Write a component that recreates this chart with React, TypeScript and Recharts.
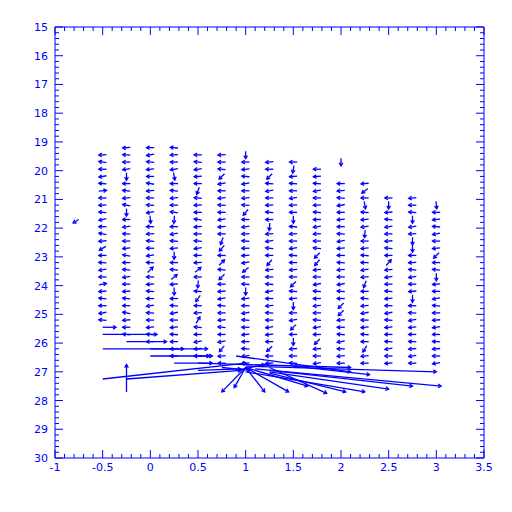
import { ReferenceArea, ReferenceLine, Scatter, ScatterChart, XAxis, YAxis } from "recharts";

const BLUE = "#0000ff";
const N = null;

// axis labels
const X_LABELS = [-1, -0.5, 0, 0.5, 1, 1.5, 2, 2.5, 3, 3.5];
const Y_LABELS = [15, 16, 17, 18, 19, 20, 21, 22, 23, 24, 25, 26, 27, 28, 29, 30];
const MINOR_PER_MAJOR = 5;

// grid of the small vectors
const COL_X = [-0.5, -0.25, 0, 0.25, 0.5, 0.75, 1, 1.25, 1.5, 1.75, 2, 2.25, 2.5, 2.75, 3];
const ROW_Y = [
  19.2, 19.45, 19.7, 19.95, 20.2, 20.45, 20.7, 20.95, 21.2, 21.45, 21.7, 21.95, 22.2, 22.45, 22.7, 22.95,
  23.2, 23.45, 23.7, 23.95, 24.2, 24.45, 24.7, 24.95, 25.2, 25.45, 25.7, 25.95, 26.2, 26.45, 26.7,
];

// direction of each small vector, degrees (0 = east, 90 = up), one list per column
const C_M050 = [N, 185, 170, 180, 190, 175, 5, 180, 185, 175, 195, 180, 170, 185, 210, 180, 175, 190, 180, 10, 185, 175, 180, 190, 175, N, N, N, N, N, N];
const C_M025 = [185, 175, 180, 190, 270, 180, 175, 185, 170, 270, 180, 190, 175, 180, 185, 170, 180, 175, 190, 180, 185, 175, 180, 170, 185, 180, 175, N, N, N, N];
const C_000 = [180, 190, 175, 185, 180, 170, 185, 180, 175, 190, 275, 180, 185, 175, 180, 190, 175, 45, 180, 185, 175, 180, 190, 175, 180, 185, 175, 180, N, N, N];
const C_025 = [175, 185, 180, 190, 280, 180, 175, 185, 180, 170, 265, 180, 190, 175, 185, 270, 180, 175, 40, 185, 270, 180, 175, 190, 180, 185, 175, 180, 185, 180, N];
const C_050 = [N, 180, 175, 190, 185, 180, 250, 175, 185, 180, 170, 185, 180, 175, 190, 180, 185, 40, 180, 265, 175, 235, 180, 185, 60, 175, 180, 190, 185, 180, N];
const C_075 = [N, 185, 180, 175, 225, 190, 180, 185, 175, 180, 190, 185, 180, 250, 230, 180, 45, 175, 225, 180, 185, 190, 175, 180, 185, 175, 180, 190, 230, 185, 180];
const C_100 = [N, 270, 180, 185, 175, 190, 180, 185, 175, 230, 180, 190, 185, 175, 180, 185, 190, 220, 180, 175, 270, 185, 180, 190, 175, 180, 185, 180, 175, 190, 185];
const C_125 = [N, N, 185, 180, 225, 175, 190, 180, 185, 175, 180, 265, 185, 190, 175, 180, 230, 185, 180, 175, 190, 180, 185, 175, 180, 190, 185, 180, 225, 180, 185];
const C_150 = [N, N, 180, 260, 185, 175, 180, 190, 185, 180, 270, 175, 185, 180, 190, 175, 180, 185, 180, 225, 175, 185, 270, 180, 190, 225, 180, 270, 185, 180, 175];
const C_175 = [N, N, N, 180, 185, 175, 190, 180, 185, 175, 180, 190, 185, 180, 175, 225, 230, 185, 180, 190, 175, 180, 185, 180, 175, 190, 180, 225, 185, 180, 190];
const C_200 = [N, N, 270, N, N, 180, 185, 175, 190, 180, 185, 180, 175, 190, 185, 180, 175, 185, 180, 190, 175, 180, 225, 225, 185, 180, 175, 190, 180, 185, 180];
const C_225 = [N, N, N, N, N, 185, 220, 180, 280, 175, 185, 190, 265, 180, 185, 175, 180, 190, 185, 250, 180, 175, 185, 190, 180, 185, 175, 180, 240, 185, 180];
const C_250 = [N, N, N, N, N, N, N, 180, 270, 185, 175, 190, 180, 185, 175, 180, 50, 185, 190, 180, 175, 185, 180, 190, 175, 185, 180, 175, 190, 180, 185];
const C_275 = [N, N, N, N, N, N, N, 185, 180, 175, 270, 190, 185, 270, 270, 180, 185, 175, 190, 180, 185, 270, 180, 175, 190, 185, 180, 175, 185, 190, 180];
const C_300 = [N, N, N, N, N, N, N, N, 275, 180, 185, 175, 190, 180, 185, 225, 180, 175, 270, 185, 180, 190, 175, 180, 185, 190, 180, 175, 185, 180, 190];
const ANGLES = [C_M050, C_M025, C_000, C_025, C_050, C_075, C_100, C_125, C_150, C_175, C_200, C_225, C_250, C_275, C_300];

// size of a small vector in axis units
const SMALL_DX = 0.08;
const SMALL_DY = 0.26;

// the large vectors near the bottom: base point and components
const BIG_X = [-0.75, -0.5, -0.5, -0.5, -0.25, 0, 0, 0.25, 0.5, -0.5, -0.25, -0.25, 0.5, 1, 1, 1, 1, 1, 0.75, 0.9, 1, 1.1, 1.25, 1.25, 1, 1.25, 1.25, 1.5, 0.9, 0.5];
const BIG_Y = [21.7, 25.45, 25.7, 26.2, 25.95, 26.2, 26.45, 26.7, 26.45, 27.25, 27.25, 27.7, 26.95, 26.85, 26.85, 26.85, 26.85, 26.85, 26.85, 26.95, 26.8, 26.9, 26.95, 27, 27, 27.05, 26.85, 26.8, 26.45, 26.7];
const BIG_U = [-0.06, 0.14, 0.57, 1.1, 0.42, 0.35, 0.62, 0.4, 0.15, 1.5, 1.2, 0, 0.45, -0.25, -0.12, 0.2, 0.45, 0.65, 0.3, 0.3, 2.0, 1.95, 1.5, 1.25, 1.25, 0.8, 0.6, 0.8, 1.2, 1.6];
const BIG_V = [0.12, 0, 0, 0, 0, 0, 0, 0, 0, -0.55, -0.3, -0.95, -0.05, 0.85, 0.7, 0.85, 0.85, 0.65, 0.1, -0.2, 0.2, 0.6, 0.55, 0.6, 0.7, 0.65, 0.9, 0.3, 0.55, 0.15];

const W = 504;
const H = 496;
const MARGIN = { top: 19, right: 28, bottom: 0, left: 0 };
const PLOT_TOP = MARGIN.top;
const PLOT_RIGHT = W - MARGIN.right;
const FONT = "DejaVu Sans";

function withMinors(majors: number[]) {
  const out: number[] = [];
  for (let i = 0; i < majors.length - 1; i++) {
    const step = (majors[i + 1] - majors[i]) / MINOR_PER_MAJOR;
    for (let k = 0; k < MINOR_PER_MAJOR; k++) out.push(Math.round((majors[i] + k * step) * 1000) / 1000);
  }
  out.push(majors[majors.length - 1]);
  return out;
}

const isMajor = (v: number, majors: number[]) => majors.some((m) => Math.abs(m - v) < 1e-6);

function XTick(props: any) {
  const { x, y, payload } = props;
  const major = isMajor(payload.value, X_LABELS);
  const len = major ? 8 : 4;
  return (
    <g>
      <line x1={x} x2={x} y1={y} y2={y - len} stroke={BLUE} />
      <line x1={x} x2={x} y1={PLOT_TOP} y2={PLOT_TOP + len} stroke={BLUE} />
      {major && (
        <text x={x} y={y + 13} textAnchor="middle" fill={BLUE} fontSize={11} fontFamily={FONT}>
          {String(payload.value)}
        </text>
      )}
    </g>
  );
}

function YTick(props: any) {
  const { x, y, payload } = props;
  const major = isMajor(payload.value, Y_LABELS);
  const len = major ? 8 : 4;
  return (
    <g>
      <line x1={x} x2={x + len} y1={y} y2={y} stroke={BLUE} />
      <line x1={PLOT_RIGHT} x2={PLOT_RIGHT - len} y1={y} y2={y} stroke={BLUE} />
      {major && (
        <text x={x - 7} y={y + 4} textAnchor="end" fill={BLUE} fontSize={11} fontFamily={FONT}>
          {String(payload.value)}
        </text>
      )}
    </g>
  );
}

function arrowShape(p: any) {
  const { x1, y1, x2, y2 } = p;
  if (x1 == null || y1 == null) return <g />;
  const a = Math.atan2(y2 - y1, x2 - x1);
  const h = 3.5;
  const b1 = [x2 - h * Math.cos(a - 0.55), y2 - h * Math.sin(a - 0.55)];
  const b2 = [x2 - h * Math.cos(a + 0.55), y2 - h * Math.sin(a + 0.55)];
  return (
    <g>
      <line x1={x1} y1={y1} x2={x2} y2={y2} stroke={BLUE} strokeWidth={1.3} />
      <polyline
        points={`${b1[0]},${b1[1]} ${x2},${y2} ${b2[0]},${b2[1]}`}
        fill="none"
        stroke={BLUE}
        strokeWidth={1.3}
      />
    </g>
  );
}

type Seg = { key: string; x1: number; y1: number; x2: number; y2: number };

const segments: Seg[] = [];
ANGLES.forEach((col, c) => {
  col.forEach((deg, r) => {
    if (deg == null || r >= ROW_Y.length) return;
    const t = (deg * Math.PI) / 180;
    const u = SMALL_DX * Math.cos(t);
    const v = -SMALL_DY * Math.sin(t);
    const x = COL_X[c];
    const y = ROW_Y[r];
    segments.push({ key: `s${c}-${r}`, x1: x - u / 2, y1: y - v / 2, x2: x + u / 2, y2: y + v / 2 });
  });
});
BIG_X.forEach((x, i) => {
  segments.push({ key: `b${i}`, x1: x, y1: BIG_Y[i], x2: x + BIG_U[i], y2: BIG_Y[i] + BIG_V[i] });
});

const basePoints = segments.map((s) => ({ x: s.x1, y: s.y1 }));

export default function App() {
  const xTicks = withMinors(X_LABELS);
  const yTicks = withMinors(Y_LABELS);
  return (
    <ScatterChart width={W} height={H} margin={MARGIN}>
      <XAxis
        type="number"
        dataKey="x"
        domain={[-1, 3.5]}
        ticks={xTicks}
        interval={0}
        tickSize={0}
        tickMargin={0}
        tickLine={false}
        axisLine={false}
        allowDataOverflow
        height={46}
        tick={<XTick />}
      />
      <YAxis
        type="number"
        dataKey="y"
        domain={[15, 30]}
        reversed
        ticks={yTicks}
        interval={0}
        tickSize={0}
        tickMargin={0}
        tickLine={false}
        axisLine={false}
        allowDataOverflow
        width={47}
        tick={<YTick />}
      />
      <ReferenceArea x1={-1} x2={3.5} y1={15} y2={30} fill="none" fillOpacity={0} stroke={BLUE} strokeOpacity={1} />
      <Scatter data={basePoints} shape={() => <g />} isAnimationActive={false} />
      {segments.map((s) => (
        <ReferenceLine
          key={s.key}
          segment={[
            { x: s.x1, y: s.y1 },
            { x: s.x2, y: s.y2 },
          ]}
          ifOverflow="visible"
          shape={arrowShape}
        />
      ))}
    </ScatterChart>
  );
}
